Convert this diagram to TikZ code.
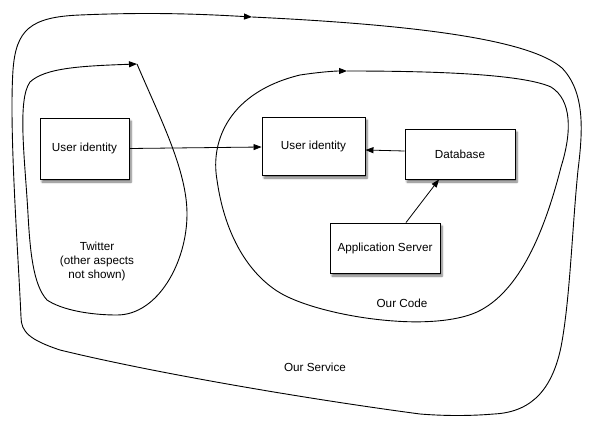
\documentclass[tikz,border=0pt]{standalone}
\usepackage{fontspec}
\setmainfont{Liberation Sans}
\usetikzlibrary{arrows.meta,shadows.blur}
\begin{document}
\begin{tikzpicture}[x=1pt,y=-1pt,
  every node/.style={font=\fontsize{11.7}{14}\selectfont, align=center},
  box/.style={draw=black, line width=0.9pt, fill=white, inner sep=0pt,
    blur shadow={shadow xshift=2pt, shadow yshift=-3pt, shadow opacity=55, shadow blur steps=6, shadow blur radius=2pt}},
  curve/.style={line width=0.9pt, -{Triangle[length=8pt,width=6pt]}},
  conn/.style={line width=0.8pt, -{Triangle[length=8pt,width=6pt]}},
  lbl/.style={inner sep=0pt}]
\useasboundingbox (0,0) rectangle (594,428);
% Our Service
\draw[curve] (252,17) .. controls (420,25) and (530,40) .. (562,68)
  .. controls (585,92) and (583,130) .. (578,170)
  .. controls (572,230) and (570,300) .. (561,347)
  .. controls (553,385) and (535,412) .. (494,414)
  .. controls (470,416) and (445,416) .. (420,414)
  .. controls (300,398) and (150,372) .. (60,350)
  .. controls (30,340) and (21,332) .. (21,317)
  .. controls (18,250) and (9,130) .. (13,70)
  .. controls (16,30) and (30,17) .. (80,15)
  .. controls (150,12) and (200,14) .. (252,17);
% Twitter
\draw[curve] (137,64) .. controls (160,118) and (187,170) .. (187,214)
  .. controls (187,262) and (158,315) .. (117,315)
  .. controls (90,315) and (62,310) .. (47,300)
  .. controls (33,285) and (30,250) .. (28,214)
  .. controls (25,160) and (17,100) .. (30,82)
  .. controls (45,68) and (80,66) .. (137,64);
% Our Code
\draw[curve] (347,71) .. controls (420,71) and (520,73) .. (551,87)
  .. controls (572,100) and (572,132) .. (561,167)
  .. controls (545,230) and (520,292) .. (477,312)
  .. controls (455,322) and (420,323) .. (394,321)
  .. controls (350,318) and (300,306) .. (277,291)
  .. controls (245,270) and (224,230) .. (217,180)
  .. controls (210,140) and (230,92) .. (300,75)
  .. controls (320,72) and (335,71) .. (347,71);
% boxes
\node[box, minimum width=89pt, minimum height=61pt] (ui1) at (84.5,148.5) {User identity};
\node[box, minimum width=103pt, minimum height=58pt] (ui2) at (313.5,146) {User identity};
\node[box, minimum width=110pt, minimum height=50pt] (db) at (460,154) {Database};
\node[box, minimum width=110pt, minimum height=50pt] (app) at (385,248) {Application Server};
% labels
\node[lbl] (tw) at (97,261) {Twitter\\(other aspects\\not shown)};
\node[lbl] (oc) at (402,303) {Our Code};
\node[lbl] (os) at (315,367) {Our Service};
% connectors
\draw[conn] (ui1.east) -- ([yshift=-1pt]ui2.west);
\draw[conn] ([yshift=3pt]db.west) -- ([yshift=-4pt]ui2.east);
\draw[conn] ([xshift=21pt]app.north) -- ([xshift=-21pt]db.south);
\end{tikzpicture}
\end{document}
